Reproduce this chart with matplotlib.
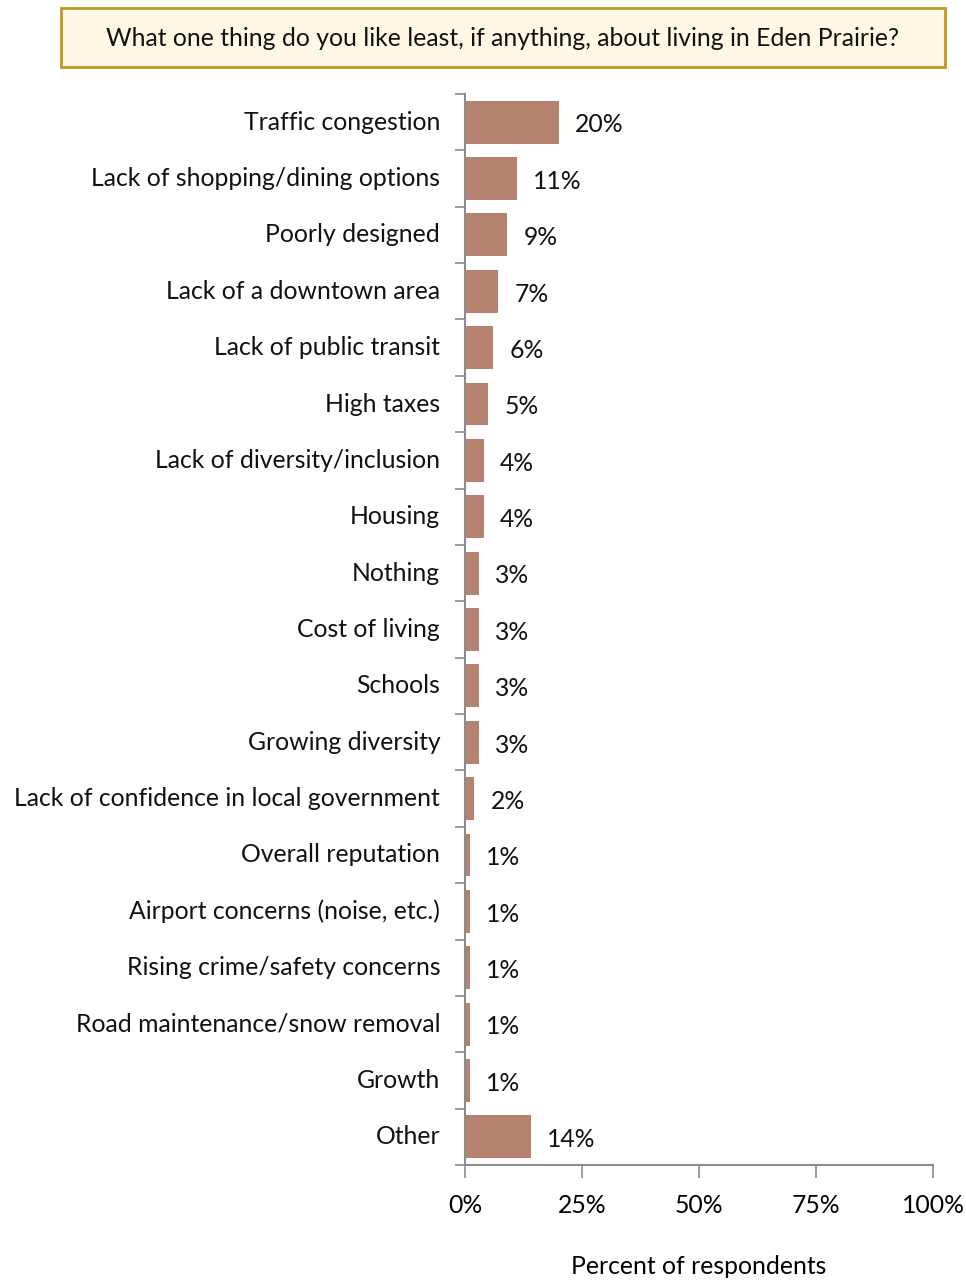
import matplotlib.pyplot as plt
from matplotlib.patches import FancyBboxPatch

categories = ['Traffic congestion', 'Lack of shopping/dining options', 'Poorly designed',
              'Lack of a downtown area', 'Lack of public transit', 'High taxes',
              'Lack of diversity/inclusion', 'Housing', 'Nothing', 'Cost of living',
              'Schools', 'Growing diversity', 'Lack of confidence in local government',
              'Overall reputation', 'Airport concerns (noise, etc.)',
              'Rising crime/safety concerns', 'Road maintenance/snow removal',
              'Growth', 'Other']
values = [20, 11, 9, 7, 6, 5, 4, 4, 3, 3, 3, 3, 2, 1, 1, 1, 1, 1, 14]
xticks = [0, 25, 50, 75, 100]

title = 'What one thing do you like least, if anything, about living in Eden Prairie?'

plt.rcParams['font.family'] = ['Lato', 'DejaVu Sans']
bar_color = '#b5826f'
spine_color = '#8c8c8c'
fs = 17.8

fig = plt.figure(figsize=(9.66, 12.8), dpi=100)
ax = fig.add_axes([0.4814, 0.0898, 0.4844, 0.8368])

n = len(categories)
ypos = list(range(n))
ax.barh(ypos, values, height=0.76, color=bar_color)
ax.set_ylim(n - 0.5, -0.5)
ax.set_xlim(0, 100)

for y, v in zip(ypos, values):
    ax.text(v + 3.5, y + 0.05, f'{v}%', va='center', ha='left', fontsize=fs, color='#111111')

# category labels drawn as text; ticks sit on the category boundaries
for y, c in zip(ypos, categories):
    ax.text(-5.3, y, c, va='center', ha='right', fontsize=fs, color='#111111')
ax.set_yticks([i - 0.5 for i in range(n + 1)])
ax.set_yticklabels([])
ax.tick_params(axis='y', length=7, width=1.2, color=spine_color, direction='out')

ax.set_xticks(xticks)
ax.set_xticklabels([f'{t}%' for t in xticks], fontsize=fs)
ax.tick_params(axis='x', length=9, width=1.2, color=spine_color, direction='out', pad=12)

for s in ['top', 'right']:
    ax.spines[s].set_visible(False)
for s in ['left', 'bottom']:
    ax.spines[s].set_color(spine_color)
    ax.spines[s].set_linewidth(1.5)

ax.set_xlabel('Percent of respondents', fontsize=fs, labelpad=27)

box = FancyBboxPatch((0.063, 0.9477), 0.915, 0.0461, boxstyle='square,pad=0',
                     transform=fig.transFigure, facecolor='#fff8e5',
                     edgecolor='#c09a1e', linewidth=2)
fig.patches.append(box)
fig.text(0.5207, 0.9700, title, ha='center', va='center', fontsize=fs, color='#111111')

fig.savefig('out.png', dpi=100)
